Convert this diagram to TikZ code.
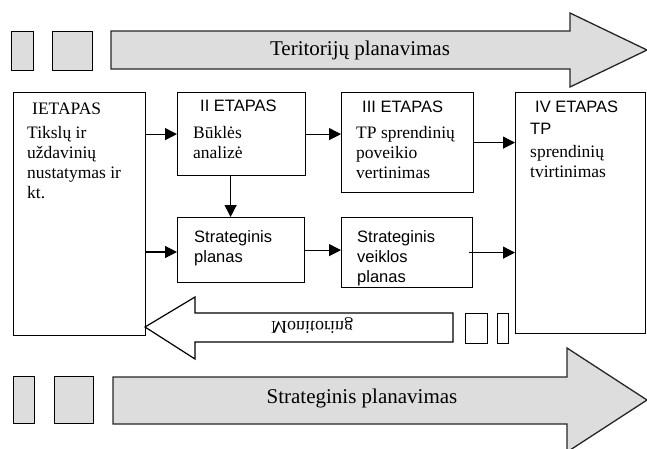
\documentclass[tikz,border=0pt]{standalone}
\usepackage{fontspec}
\newfontfamily\boxserif{Liberation Serif}
\newfontfamily\boxsans{Liberation Sans}
\definecolor{bargray}{RGB}{221, 221, 221}
\usepackage{tikz}
\usetikzlibrary{arrows.meta, positioning, calc}

\tikzset{
  stage/.style={draw, line width=1.2pt, fill=white, inner sep=0pt, anchor=north west},
  tag/.style={draw, line width=1.2pt, fill=bargray, inner sep=0pt, anchor=north west},
  sidetag/.style={draw, line width=1.2pt, fill=white, inner sep=0pt, anchor=north west},
  sertxt/.style={anchor=north west, inner sep=0pt, align=left, font=\boxserif\fontsize{17.5}{20}\selectfont},
  santxt/.style={anchor=north west, inner sep=0pt, align=left, font=\boxsans\fontsize{16.5}{20.5}\selectfont},
  flow/.style={line width=1.2pt, -{Triangle[length=12pt, width=12pt]}},
  bigarrow/.style={draw=black!85, line width=1.3pt, fill=bargray}
}

\begin{document}
\begin{tikzpicture}[x=1pt, y=-1pt]
  \useasboundingbox (0,0) rectangle (647,448);

  % Teritoriju planavimas
  \node[tag, minimum width=22pt, minimum height=39pt] (ttag1) at (11,31) {};
  \node[tag, minimum width=40pt, minimum height=39pt] (ttag2) at (52,31) {};
  \draw[bigarrow] (111,31) -- (570,31) -- (570,13) -- (647,50) -- (570,87) -- (570,69) -- (111,69) -- cycle;
  \node[font=\boxserif\fontsize{21}{24}\selectfont] (terplan) at (360,50) {Teritorijų planavimas};

  % Etapai
  \node[stage, minimum width=132pt, minimum height=243pt] (etapas1) at (13,92) {};
  \node[stage, minimum width=128pt, minimum height=83pt] (etapas2) at (177,92) {};
  \node[stage, minimum width=132pt, minimum height=100pt] (etapas3) at (341,92) {};
  \node[stage, minimum width=130pt, minimum height=241pt] (etapas4) at (515,92) {};
  \node[stage, minimum width=127pt, minimum height=65pt] (strplan) at (177,217) {};
  \node[stage, minimum width=131pt, minimum height=70pt] (veikplan) at (341,217) {};

  \node[sertxt] (t1a) at (32,103) {IETAPAS};
  \node[sertxt] (t1b) at (27,126) {Tikslų ir\\uždavinių\\nustatymas ir\\kt.};
  \node[santxt] (t2a) at (200,100) {II ETAPAS};
  \node[sertxt] (t2b) at (193,126) {Būklės\\analizė};
  \node[santxt] (t3a) at (362,101) {III ETAPAS};
  \node[sertxt] (t3b) at (356,126) {TP sprendinių\\poveikio\\vertinimas};
  \node[santxt] (t4a) at (535,101) {IV ETAPAS};
  \node[santxt] (t4b) at (530,123) {TP};
  \node[sertxt] (t4c) at (530,145) {sprendinių\\tvirtinimas};
  \node[santxt] (t5) at (194,230) {Strateginis\\planas};
  \node[santxt, font=\boxsans\fontsize{16.5}{20}\selectfont] (t6) at (357,230) {Strateginis\\veiklos\\planas};

  % Rodykles
  \draw[flow] (etapas1.east |- etapas2.west) -- (etapas2.west);
  \draw[flow] (etapas1.east |- 0,252) -- (strplan.west |- 0,252);
  \draw[flow] ([xshift=-11pt]etapas2.south) -- ([xshift=-11pt]etapas2.south |- strplan.north);
  \draw[flow] (etapas2.east) -- (etapas2.east -| etapas3.west);
  \draw[flow] (etapas3.east) -- (etapas3.east -| etapas4.west);
  \draw[flow] (strplan.east) -- (strplan.east -| veikplan.west);
  \draw[flow] ([xshift=-4pt]veikplan.east) -- (veikplan.east -| etapas4.west);

  % Monitoringas
  \draw[line width=1.2pt, fill=white] (145,327) -- (195,297) -- (195,313) -- (453,313) -- (453,342) -- (195,342) -- (195,359) -- cycle;
  \node[font=\boxserif\fontsize{18}{20}\selectfont, yscale=-1] (monit) at (312,326) {Monitoring};
  \node[sidetag, minimum width=22pt, minimum height=30pt] (mtag1) at (465,313) {};
  \node[sidetag, minimum width=11pt, minimum height=30pt] (mtag2) at (497,313) {};

  % Strateginis planavimas
  \node[tag, minimum width=21pt, minimum height=47pt] (stag1) at (13,376) {};
  \node[tag, minimum width=39pt, minimum height=47pt] (stag2) at (54,376) {};
  \draw[bigarrow] (113,377) -- (567,377) -- (567,348) -- (647,400) -- (567,452) -- (567,424) -- (113,424) -- cycle;
  \node[font=\boxserif\fontsize{21}{24}\selectfont] (strplanav) at (362,398) {Strateginis planavimas};
\end{tikzpicture}
\end{document}
